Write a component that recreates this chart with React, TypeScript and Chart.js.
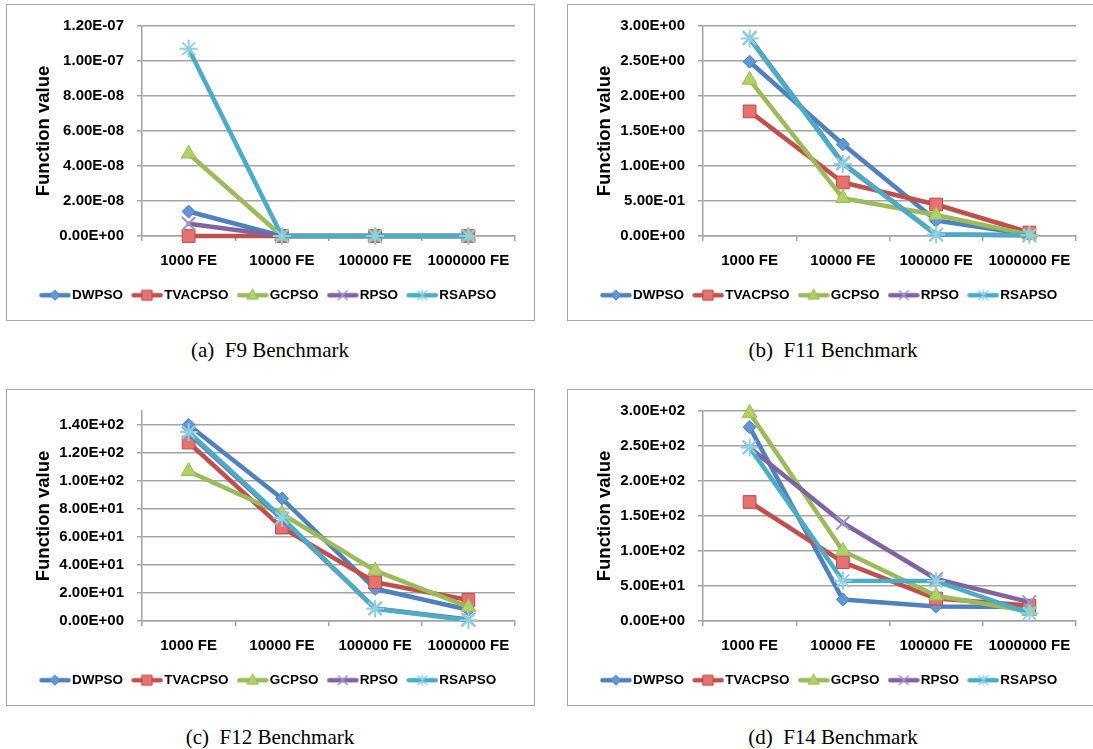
import React, { useEffect, useRef } from "react";
import { Chart, registerables } from "chart.js";

Chart.register(...registerables);

// ---------- data ----------
const categories = ["1000 FE", "10000 FE", "100000 FE", "1000000 FE"];
const seriesNames = ["DWPSO", "TVACPSO", "GCPSO", "RPSO", "RSAPSO"];

// F9 benchmark
const f9DWPSO = [1.4e-8, 0, 0, 0];
const f9TVACPSO = [0, 0, 0, 0];
const f9GCPSO = [4.7e-8, 0, 0, 0];
const f9RPSO = [7.0e-9, 0, 0, 0];
const f9RSAPSO = [1.07e-7, 0, 0, 0];

// F11 benchmark
const f11DWPSO = [2.49, 1.31, 0.22, 0.02];
const f11TVACPSO = [1.78, 0.765, 0.45, 0.05];
const f11GCPSO = [2.23, 0.54, 0.3, 0.02];
const f11RPSO = [2.83, 1.04, 0.02, 0.01];
const f11RSAPSO = [2.82, 1.03, 0.02, 0.01];

// F12 benchmark
const f12DWPSO = [140, 87.5, 23, 8];
const f12TVACPSO = [127.5, 66.7, 27.7, 15];
const f12GCPSO = [107, 76.6, 36, 10];
const f12RPSO = [134, 73, 9, 1];
const f12RSAPSO = [135, 73.8, 8.8, 0.5];

// F14 benchmark
const f14DWPSO = [277, 30.6, 20.8, 20];
const f14TVACPSO = [170, 84, 32, 22];
const f14GCPSO = [297, 100, 36, 14];
const f14RPSO = [248, 140, 60, 27];
const f14RSAPSO = [248, 57.5, 57, 11];

// y-axis ranges
const f9Axis = { max: 1.2e-7, step: 2e-8 };
const f11Axis = { max: 3.0, step: 0.5 };
const f12Axis = { max: 150, step: 20 };
const f14Axis = { max: 300, step: 50 };

const yTitle = "Function value";
const captions = ["(a)  F9 Benchmark", "(b)  F11 Benchmark", "(c)  F12 Benchmark", "(d)  F14 Benchmark"];

// ---------- styles ----------
const FONT = "'Liberation Sans', Arial, Helvetica, sans-serif";
const GRID = "#a3a3a3";

type SeriesStyle = { line: string; fill: string; border: string; style: any; r: number; bw: number };
const STYLES: SeriesStyle[] = [
  { line: "#4f81bd", fill: "#5f97d9", border: "#4a7ebb", style: "rectRot", r: 6.5, bw: 1 },
  { line: "#c0504d", fill: "#e5726f", border: "#be4b48", style: "rect", r: 9, bw: 1 },
  { line: "#9bbb59", fill: "#b0d06a", border: "#98b954", style: "triangle", r: 8.5, bw: 1 },
  { line: "#8064a2", fill: "#a792c6", border: "#a792c6", style: "crossRot", r: 9.5, bw: 2 },
  { line: "#4bacc6", fill: "#8fd0e1", border: "#8fd0e1", style: "star", r: 9, bw: 2 },
];

function fmtSci(v: number): string {
  if (Math.abs(v) < 1e-30) return "0.00E+00";
  const [m, e] = v.toExponential(2).split("e");
  const n = parseInt(e, 10);
  return `${m}E${n < 0 ? "-" : "+"}${String(Math.abs(n)).padStart(2, "0")}`;
}

function makeLegendImage(s: SeriesStyle): HTMLCanvasElement {
  const c = document.createElement("canvas");
  c.width = 32;
  c.height = 14;
  const ctx = c.getContext("2d")!;
  ctx.strokeStyle = s.line;
  ctx.lineWidth = 4.5;
  ctx.lineCap = "round";
  ctx.beginPath();
  ctx.moveTo(2.5, 7);
  ctx.lineTo(29.5, 7);
  ctx.stroke();
  const cx = 16, cy = 7;
  ctx.fillStyle = s.fill;
  ctx.strokeStyle = s.border;
  ctx.lineWidth = 1;
  ctx.beginPath();
  if (s.style === "rectRot") {
    ctx.moveTo(cx, cy - 5); ctx.lineTo(cx + 5, cy); ctx.lineTo(cx, cy + 5); ctx.lineTo(cx - 5, cy); ctx.closePath();
    ctx.fill(); ctx.stroke();
  } else if (s.style === "rect") {
    ctx.rect(cx - 5, cy - 5, 10, 10); ctx.fill(); ctx.stroke();
  } else if (s.style === "triangle") {
    ctx.moveTo(cx, cy - 6); ctx.lineTo(cx + 5.5, cy + 4); ctx.lineTo(cx - 5.5, cy + 4); ctx.closePath();
    ctx.fill(); ctx.stroke();
  } else {
    ctx.lineWidth = 1.5;
    ctx.moveTo(cx - 4.5, cy - 4.5); ctx.lineTo(cx + 4.5, cy + 4.5);
    ctx.moveTo(cx + 4.5, cy - 4.5); ctx.lineTo(cx - 4.5, cy + 4.5);
    if (s.style === "star") { ctx.moveTo(cx, cy - 5); ctx.lineTo(cx, cy + 5); }
    ctx.stroke();
  }
  return c;
}

type PanelProps = { left: number; top: number; series: number[][]; yMax: number; yStep: number; caption: string; capX: number; capY: number };

function Panel(p: PanelProps) {
  const ref = useRef<HTMLCanvasElement>(null);
  useEffect(() => {
    const imgs = STYLES.map(makeLegendImage);
    const chart = new Chart(ref.current!, {
      type: "line",
      data: {
        labels: categories,
        datasets: seriesNames.map((name, i) => ({
          label: name,
          data: p.series[i],
          yAxisID: "y",
          borderColor: STYLES[i].line,
          backgroundColor: STYLES[i].fill,
          borderWidth: 4.5,
          tension: 0,
          fill: false,
          borderCapStyle: "round",
          borderJoinStyle: "round",
          pointStyle: STYLES[i].style,
          pointRadius: STYLES[i].r,
          pointBackgroundColor: STYLES[i].fill,
          pointBorderColor: STYLES[i].border,
          pointBorderWidth: STYLES[i].bw,
          order: 4 - i,
          clip: 14,
        })) as any,
      },
      options: {
        responsive: false,
        animation: false,
        events: [],
        layout: { padding: { left: 0, right: 0, top: 19, bottom: 9 } },
        plugins: {
          tooltip: { enabled: false },
          legend: {
            position: "bottom",
            labels: {
              usePointStyle: true,
              pointStyleWidth: 20.5,
              padding: 14,
              color: "#000",
              font: { family: FONT, size: 13.5, weight: "bold" },
              generateLabels: () =>
                seriesNames.map((name, i) => ({
                  text: name,
                  pointStyle: imgs[i] as any,
                  datasetIndex: i,
                  hidden: false,
                  fillStyle: "rgba(0,0,0,0)",
                  strokeStyle: "rgba(0,0,0,0)",
                  lineWidth: 0,
                  fontColor: "#000",
                })),
            },
          },
        },
        scales: {
          x: {
            type: "category",
            offset: true,
            grid: { offset: true, drawOnChartArea: false, drawTicks: true, tickLength: 5, color: GRID, lineWidth: 1.5 },
            border: { color: GRID, width: 1.5 },
            ticks: { color: "#000", font: { family: FONT, size: 15, weight: "bold" }, padding: 11, maxRotation: 0, autoSkip: false },
            afterFit: (s: any) => { s.height = 38.5; },
          },
          y: {
            type: "linear",
            position: "left",
            min: 0,
            max: p.yMax,
            grid: { color: GRID, lineWidth: 1.5, tickLength: 5 },
            border: { color: GRID, width: 1.5 },
            ticks: {
              stepSize: p.yStep,
              includeBounds: false,
              color: "#000",
              font: { family: FONT, size: 15, weight: "bold" },
              padding: 13,
              callback: (v: any) => fmtSci(Number(v)),
            },
            title: {
              display: true,
              text: yTitle,
              color: "#000",
              font: { family: FONT, size: 18.5, weight: "bold" },
              padding: { top: 26.5, bottom: 0 },
            },
            afterFit: (s: any) => { s.width = 136; },
          },
          yR: {
            type: "linear",
            position: "right",
            display: true,
            grid: { display: false, drawTicks: false },
            border: { display: false },
            ticks: { display: false },
            afterFit: (s: any) => { s.width = 20; },
          },
        },
      } as any,
    });
    return () => chart.destroy();
  }, []);
  return (
    <>
      <div
        style={{
          position: "absolute",
          left: p.left,
          top: p.top,
          width: 529,
          height: 317,
          boxSizing: "border-box",
          border: "1.5px solid #a8a8a8",
        }}
      />
      <canvas ref={ref} width={529} height={317} style={{ position: "absolute", left: p.left, top: p.top }} />
      <div
        style={{
          position: "absolute",
          left: p.capX,
          top: p.capY,
          transform: "translateX(-50%)",
          whiteSpace: "pre",
          fontFamily: "'Liberation Serif', 'Times New Roman', serif",
          fontSize: 21,
          lineHeight: "21px",
          color: "#000",
        }}
      >
        {p.caption}
      </div>
    </>
  );
}

export default function App() {
  return (
    <div style={{ position: "absolute", left: 0, top: 0, width: 1093, height: 749, overflow: "hidden", background: "#fff" }}>
      <Panel left={6} top={4} series={[f9DWPSO, f9TVACPSO, f9GCPSO, f9RPSO, f9RSAPSO]} yMax={f9Axis.max} yStep={f9Axis.step} caption={captions[0]} capX={270} capY={340} />
      <Panel left={567} top={4} series={[f11DWPSO, f11TVACPSO, f11GCPSO, f11RPSO, f11RSAPSO]} yMax={f11Axis.max} yStep={f11Axis.step} caption={captions[1]} capX={833} capY={340} />
      <Panel left={6} top={389} series={[f12DWPSO, f12TVACPSO, f12GCPSO, f12RPSO, f12RSAPSO]} yMax={f12Axis.max} yStep={f12Axis.step} caption={captions[2]} capX={270} capY={727} />
      <Panel left={567} top={389} series={[f14DWPSO, f14TVACPSO, f14GCPSO, f14RPSO, f14RSAPSO]} yMax={f14Axis.max} yStep={f14Axis.step} caption={captions[3]} capX={833} capY={727} />
    </div>
  );
}
